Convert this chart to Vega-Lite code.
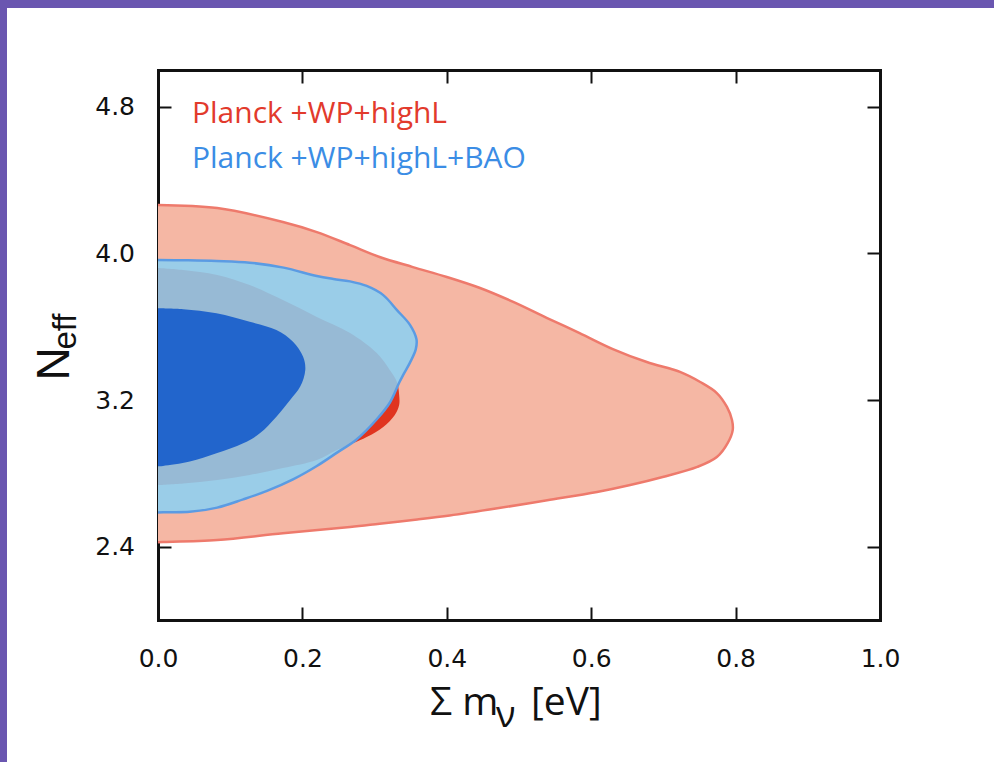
{
  "$schema": "https://vega.github.io/schema/vega-lite/v6.json",
  "padding": 0,
  "background": "#ffffff",
  "spacing": 0,
  "resolve": {"legend": {"stroke": "independent"}},
  "config": {
    "view": {"stroke": null},
    "concat": {"spacing": 0},
    "axis": {"zindex": 1, "grid": false, "domainColor": "#111111", "domainWidth": 3, "domainCap": "square", "tickColor": "#111111", "tickWidth": 2, "tickSize": -13, "labelColor": "#111111", "labelFont": "DejaVu Sans", "labelFontSize": 25, "titleColor": "#111111", "titleFont": "Open Sans", "titleFontWeight": "normal"}
  },
  "vconcat": [
    {"width": 994, "height": 8, "data": {"values": [{}]}, "mark": {"type": "rect", "color": "#6a56b0"}, "encoding": {}, "view": {"fill": "#6a56b0", "stroke": null}},
    {"spacing": 0, "resolve": {"legend": {"stroke": "independent"}}, "hconcat": [
      {"width": 7, "height": 754, "data": {"values": [{}]}, "mark": {"type": "rect", "color": "#6a56b0"}, "encoding": {}, "view": {"fill": "#6a56b0", "stroke": null}},
      {
        "width": 722, "height": 612,
        "data": {"values": [
          {"d": "Planck +WP+highL", "cl": 95, "m": 0, "n": 4.264},
          {"d": "Planck +WP+highL", "cl": 95, "m": 0.082, "n": 4.247},
          {"d": "Planck +WP+highL", "cl": 95, "m": 0.173, "n": 4.171},
          {"d": "Planck +WP+highL", "cl": 95, "m": 0.220, "n": 4.116},
          {"d": "Planck +WP+highL", "cl": 95, "m": 0.266, "n": 4.045},
          {"d": "Planck +WP+highL", "cl": 95, "m": 0.307, "n": 3.980},
          {"d": "Planck +WP+highL", "cl": 95, "m": 0.353, "n": 3.925},
          {"d": "Planck +WP+highL", "cl": 95, "m": 0.400, "n": 3.871},
          {"d": "Planck +WP+highL", "cl": 95, "m": 0.446, "n": 3.811},
          {"d": "Planck +WP+highL", "cl": 95, "m": 0.492, "n": 3.735},
          {"d": "Planck +WP+highL", "cl": 95, "m": 0.539, "n": 3.647},
          {"d": "Planck +WP+highL", "cl": 95, "m": 0.584, "n": 3.565},
          {"d": "Planck +WP+highL", "cl": 95, "m": 0.630, "n": 3.478},
          {"d": "Planck +WP+highL", "cl": 95, "m": 0.677, "n": 3.407},
          {"d": "Planck +WP+highL", "cl": 95, "m": 0.723, "n": 3.353},
          {"d": "Planck +WP+highL", "cl": 95, "m": 0.751, "n": 3.298},
          {"d": "Planck +WP+highL", "cl": 95, "m": 0.774, "n": 3.238},
          {"d": "Planck +WP+highL", "cl": 95, "m": 0.788, "n": 3.162},
          {"d": "Planck +WP+highL", "cl": 95, "m": 0.795, "n": 3.091},
          {"d": "Planck +WP+highL", "cl": 95, "m": 0.796, "n": 3.036},
          {"d": "Planck +WP+highL", "cl": 95, "m": 0.789, "n": 2.965},
          {"d": "Planck +WP+highL", "cl": 95, "m": 0.774, "n": 2.889},
          {"d": "Planck +WP+highL", "cl": 95, "m": 0.747, "n": 2.835},
          {"d": "Planck +WP+highL", "cl": 95, "m": 0.699, "n": 2.780},
          {"d": "Planck +WP+highL", "cl": 95, "m": 0.654, "n": 2.736},
          {"d": "Planck +WP+highL", "cl": 95, "m": 0.608, "n": 2.698},
          {"d": "Planck +WP+highL", "cl": 95, "m": 0.539, "n": 2.653},
          {"d": "Planck +WP+highL", "cl": 95, "m": 0.470, "n": 2.609},
          {"d": "Planck +WP+highL", "cl": 95, "m": 0.404, "n": 2.570},
          {"d": "Planck +WP+highL", "cl": 95, "m": 0.359, "n": 2.548},
          {"d": "Planck +WP+highL", "cl": 95, "m": 0.307, "n": 2.525},
          {"d": "Planck +WP+highL", "cl": 95, "m": 0.266, "n": 2.507},
          {"d": "Planck +WP+highL", "cl": 95, "m": 0.173, "n": 2.473},
          {"d": "Planck +WP+highL", "cl": 95, "m": 0.082, "n": 2.436},
          {"d": "Planck +WP+highL", "cl": 95, "m": 0.007, "n": 2.425},
          {"d": "Planck +WP+highL", "cl": 95, "m": 0, "n": 2.424},
          {"d": "Planck +WP+highL", "cl": 68, "m": 0, "n": 3.920},
          {"d": "Planck +WP+highL", "cl": 68, "m": 0.035, "n": 3.909},
          {"d": "Planck +WP+highL", "cl": 68, "m": 0.082, "n": 3.882},
          {"d": "Planck +WP+highL", "cl": 68, "m": 0.127, "n": 3.827},
          {"d": "Planck +WP+highL", "cl": 68, "m": 0.173, "n": 3.745},
          {"d": "Planck +WP+highL", "cl": 68, "m": 0.220, "n": 3.653},
          {"d": "Planck +WP+highL", "cl": 68, "m": 0.266, "n": 3.565},
          {"d": "Planck +WP+highL", "cl": 68, "m": 0.303, "n": 3.456},
          {"d": "Planck +WP+highL", "cl": 68, "m": 0.321, "n": 3.364},
          {"d": "Planck +WP+highL", "cl": 68, "m": 0.331, "n": 3.298},
          {"d": "Planck +WP+highL", "cl": 68, "m": 0.334, "n": 3.227},
          {"d": "Planck +WP+highL", "cl": 68, "m": 0.334, "n": 3.173},
          {"d": "Planck +WP+highL", "cl": 68, "m": 0.328, "n": 3.118},
          {"d": "Planck +WP+highL", "cl": 68, "m": 0.312, "n": 3.053},
          {"d": "Planck +WP+highL", "cl": 68, "m": 0.289, "n": 2.998},
          {"d": "Planck +WP+highL", "cl": 68, "m": 0.248, "n": 2.927},
          {"d": "Planck +WP+highL", "cl": 68, "m": 0.220, "n": 2.873},
          {"d": "Planck +WP+highL", "cl": 68, "m": 0.173, "n": 2.829},
          {"d": "Planck +WP+highL", "cl": 68, "m": 0.127, "n": 2.791},
          {"d": "Planck +WP+highL", "cl": 68, "m": 0.082, "n": 2.764},
          {"d": "Planck +WP+highL", "cl": 68, "m": 0.035, "n": 2.745},
          {"d": "Planck +WP+highL", "cl": 68, "m": 0, "n": 2.736},
          {"d": "Planck +WP+highL+BAO", "cl": 95, "m": 0, "n": 3.964},
          {"d": "Planck +WP+highL+BAO", "cl": 95, "m": 0.040, "n": 3.962},
          {"d": "Planck +WP+highL+BAO", "cl": 95, "m": 0.081, "n": 3.958},
          {"d": "Planck +WP+highL+BAO", "cl": 95, "m": 0.127, "n": 3.949},
          {"d": "Planck +WP+highL+BAO", "cl": 95, "m": 0.174, "n": 3.922},
          {"d": "Planck +WP+highL+BAO", "cl": 95, "m": 0.220, "n": 3.876},
          {"d": "Planck +WP+highL+BAO", "cl": 95, "m": 0.243, "n": 3.860},
          {"d": "Planck +WP+highL+BAO", "cl": 95, "m": 0.266, "n": 3.847},
          {"d": "Planck +WP+highL+BAO", "cl": 95, "m": 0.289, "n": 3.822},
          {"d": "Planck +WP+highL+BAO", "cl": 95, "m": 0.312, "n": 3.772},
          {"d": "Planck +WP+highL+BAO", "cl": 95, "m": 0.331, "n": 3.690},
          {"d": "Planck +WP+highL+BAO", "cl": 95, "m": 0.349, "n": 3.610},
          {"d": "Planck +WP+highL+BAO", "cl": 95, "m": 0.358, "n": 3.531},
          {"d": "Planck +WP+highL+BAO", "cl": 95, "m": 0.357, "n": 3.476},
          {"d": "Planck +WP+highL+BAO", "cl": 95, "m": 0.349, "n": 3.404},
          {"d": "Planck +WP+highL+BAO", "cl": 95, "m": 0.340, "n": 3.340},
          {"d": "Planck +WP+highL+BAO", "cl": 95, "m": 0.334, "n": 3.294},
          {"d": "Planck +WP+highL+BAO", "cl": 95, "m": 0.321, "n": 3.185},
          {"d": "Planck +WP+highL+BAO", "cl": 95, "m": 0.303, "n": 3.095},
          {"d": "Planck +WP+highL+BAO", "cl": 95, "m": 0.275, "n": 2.985},
          {"d": "Planck +WP+highL+BAO", "cl": 95, "m": 0.248, "n": 2.913},
          {"d": "Planck +WP+highL+BAO", "cl": 95, "m": 0.220, "n": 2.840},
          {"d": "Planck +WP+highL+BAO", "cl": 95, "m": 0.187, "n": 2.767},
          {"d": "Planck +WP+highL+BAO", "cl": 95, "m": 0.151, "n": 2.704},
          {"d": "Planck +WP+highL+BAO", "cl": 95, "m": 0.118, "n": 2.658},
          {"d": "Planck +WP+highL+BAO", "cl": 95, "m": 0.082, "n": 2.613},
          {"d": "Planck +WP+highL+BAO", "cl": 95, "m": 0.044, "n": 2.590},
          {"d": "Planck +WP+highL+BAO", "cl": 95, "m": 0.007, "n": 2.588},
          {"d": "Planck +WP+highL+BAO", "cl": 95, "m": 0, "n": 2.587},
          {"d": "Planck +WP+highL+BAO", "cl": 68, "m": 0, "n": 3.700},
          {"d": "Planck +WP+highL+BAO", "cl": 68, "m": 0.035, "n": 3.695},
          {"d": "Planck +WP+highL+BAO", "cl": 68, "m": 0.081, "n": 3.673},
          {"d": "Planck +WP+highL+BAO", "cl": 68, "m": 0.127, "n": 3.627},
          {"d": "Planck +WP+highL+BAO", "cl": 68, "m": 0.164, "n": 3.582},
          {"d": "Planck +WP+highL+BAO", "cl": 68, "m": 0.187, "n": 3.518},
          {"d": "Planck +WP+highL+BAO", "cl": 68, "m": 0.201, "n": 3.436},
          {"d": "Planck +WP+highL+BAO", "cl": 68, "m": 0.204, "n": 3.364},
          {"d": "Planck +WP+highL+BAO", "cl": 68, "m": 0.197, "n": 3.273},
          {"d": "Planck +WP+highL+BAO", "cl": 68, "m": 0.183, "n": 3.200},
          {"d": "Planck +WP+highL+BAO", "cl": 68, "m": 0.164, "n": 3.109},
          {"d": "Planck +WP+highL+BAO", "cl": 68, "m": 0.141, "n": 3.018},
          {"d": "Planck +WP+highL+BAO", "cl": 68, "m": 0.118, "n": 2.964},
          {"d": "Planck +WP+highL+BAO", "cl": 68, "m": 0.081, "n": 2.909},
          {"d": "Planck +WP+highL+BAO", "cl": 68, "m": 0.044, "n": 2.864},
          {"d": "Planck +WP+highL+BAO", "cl": 68, "m": 0.007, "n": 2.840},
          {"d": "Planck +WP+highL+BAO", "cl": 68, "m": 0, "n": 2.838}
        ]},
        "resolve": {"axis": {"x": "independent", "y": "independent"}},
        "layer": [
          {
            "transform": [{"filter": "datum.d === 'Planck +WP+highL' && datum.cl === 95"}],
            "mark": {"type": "area", "orient": "horizontal", "interpolate": "catmull-rom", "color": "#f5b7a4"},
            "encoding": {
              "x": {"field": "m", "type": "quantitative", "stack": null, "scale": {"domain": [0, 1], "nice": false, "zero": false},
                    "axis": {"orient": "bottom", "values": [0, 0.2, 0.4, 0.6, 0.8, 1.0], "format": ".1f", "labelFlush": false, "labelOverlap": false, "labelPadding": 39, "title": null}},
              "x2": {"datum": 0},
              "y": {"field": "n", "type": "quantitative", "scale": {"domain": [2.0, 5.0], "range": [612, 62], "nice": false, "zero": false},
                    "axis": {"orient": "left", "values": [2.4, 3.2, 4.0, 4.8], "format": ".1f", "labelFlush": false, "labelOverlap": false, "labelPadding": 36.5, "title": null, "minExtent": 151, "maxExtent": 151}}
            }
          },
          {
            "transform": [{"filter": "datum.d === 'Planck +WP+highL' && datum.cl === 68"}],
            "mark": {"type": "area", "orient": "horizontal", "interpolate": "catmull-rom", "color": "#e0341f"},
            "encoding": {
              "x": {"field": "m", "type": "quantitative", "stack": null, "scale": {"domain": [0, 1], "nice": false, "zero": false}, "axis": null},
              "x2": {"datum": 0},
              "y": {"field": "n", "type": "quantitative", "scale": {"domain": [2.0, 5.0], "range": [612, 62], "nice": false, "zero": false}, "axis": null}
            }
          },
          {
            "transform": [{"filter": "datum.d === 'Planck +WP+highL+BAO' && datum.cl === 95"}],
            "mark": {"type": "area", "orient": "horizontal", "interpolate": "catmull-rom", "color": "#8bd0f3", "opacity": 0.86},
            "encoding": {
              "x": {"field": "m", "type": "quantitative", "stack": null, "scale": {"domain": [0, 1], "nice": false, "zero": false}, "axis": null},
              "x2": {"datum": 0},
              "y": {"field": "n", "type": "quantitative", "scale": {"domain": [2.0, 5.0], "range": [612, 62], "nice": false, "zero": false}, "axis": null}
            }
          },
          {
            "transform": [{"filter": "datum.d === 'Planck +WP+highL+BAO' && datum.cl === 68"}],
            "mark": {"type": "area", "orient": "horizontal", "interpolate": "catmull-rom", "color": "#2265cc"},
            "encoding": {
              "x": {"field": "m", "type": "quantitative", "stack": null, "scale": {"domain": [0, 1], "nice": false, "zero": false}, "axis": null},
              "x2": {"datum": 0},
              "y": {"field": "n", "type": "quantitative", "scale": {"domain": [2.0, 5.0], "range": [612, 62], "nice": false, "zero": false}, "axis": null}
            }
          },
          {
            "transform": [{"filter": "datum.cl === 95"}],
            "mark": {"type": "line", "interpolate": "catmull-rom", "strokeWidth": 2.5},
            "encoding": {
              "x": {"field": "m", "type": "quantitative", "scale": {"domain": [0, 1], "nice": false, "zero": false},
                    "axis": {"orient": "top", "offset": -62, "values": [0.2, 0.4, 0.6, 0.8], "labels": false, "title": null, "minExtent": 0, "maxExtent": 0}},
              "y": {"field": "n", "type": "quantitative", "scale": {"domain": [2.0, 5.0], "range": [612, 62], "nice": false, "zero": false},
                    "axis": {"orient": "right", "values": [2.4, 3.2, 4.0, 4.8], "labels": false, "title": null, "minExtent": 2, "maxExtent": 2}},
              "order": {"field": "n", "type": "quantitative"},
              "stroke": {"field": "d", "type": "nominal",
                         "scale": {"domain": ["Planck +WP+highL", "Planck +WP+highL+BAO"], "range": ["#ee7a6c", "#5b9be3"]},
                         "legend": {"orient": "top-left", "title": null, "offset": 91, "padding": 0, "symbolSize": 0, "symbolStrokeWidth": 0, "symbolOpacity": 0, "labelOffset": -87, "labelFont": "Open Sans", "labelFontSize": 30, "labelLimit": 0, "rowPadding": 15,
                                    "encode": {"labels": {"update": {"fill": {"signal": "datum.value === 'Planck +WP+highL' ? '#e23a2c' : '#3b8de5'"}}}}}}
            }
          },
          {
            "data": {"values": [{"t": "N"}]},
            "mark": {"type": "text", "angle": 270, "align": "left", "baseline": "alphabetic", "font": "Liberation Sans", "fontSize": 46, "color": "#111111"},
            "encoding": {
              "x": {"datum": -0.1233, "type": "quantitative", "scale": {"domain": [0, 1], "nice": false, "zero": false}, "axis": null},
              "y": {"datum": 3.306, "type": "quantitative", "scale": {"domain": [2.0, 5.0], "range": [612, 62], "nice": false, "zero": false}, "axis": null},
              "text": {"field": "t"}
            }
          },
          {
            "data": {"values": [{"t": "eff"}]},
            "mark": {"type": "text", "angle": 270, "align": "left", "baseline": "alphabetic", "font": "Liberation Sans", "fontSize": 33, "color": "#111111"},
            "encoding": {
              "x": {"datum": -0.1136, "type": "quantitative", "scale": {"domain": [0, 1], "nice": false, "zero": false}, "axis": null},
              "y": {"datum": 3.475, "type": "quantitative", "scale": {"domain": [2.0, 5.0], "range": [612, 62], "nice": false, "zero": false}, "axis": null},
              "text": {"field": "t"}
            }
          },
          {
            "data": {"values": [{"t": "Σ m"}]},
            "mark": {"type": "text", "align": "left", "baseline": "alphabetic", "font": "Open Sans", "fontSize": 39, "color": "#111111"},
            "encoding": {
              "x": {"datum": 0.3767, "type": "quantitative", "scale": {"domain": [0, 1], "nice": false, "zero": false}, "axis": null},
              "y": {"datum": 1.482, "type": "quantitative", "scale": {"domain": [2.0, 5.0], "range": [612, 62], "nice": false, "zero": false}, "axis": null},
              "text": {"field": "t"}
            }
          },
          {
            "data": {"values": [{"t": "ν"}]},
            "mark": {"type": "text", "align": "left", "baseline": "alphabetic", "font": "Open Sans", "fontSize": 36, "color": "#111111"},
            "encoding": {
              "x": {"datum": 0.468, "type": "quantitative", "scale": {"domain": [0, 1], "nice": false, "zero": false}, "axis": null},
              "y": {"datum": 1.4155, "type": "quantitative", "scale": {"domain": [2.0, 5.0], "range": [612, 62], "nice": false, "zero": false}, "axis": null},
              "text": {"field": "t"}
            }
          },
          {
            "data": {"values": [{"t": "[eV]"}]},
            "mark": {"type": "text", "align": "left", "baseline": "alphabetic", "font": "Open Sans", "fontSize": 39, "color": "#111111"},
            "encoding": {
              "x": {"datum": 0.5166, "type": "quantitative", "scale": {"domain": [0, 1], "nice": false, "zero": false}, "axis": null},
              "y": {"datum": 1.482, "type": "quantitative", "scale": {"domain": [2.0, 5.0], "range": [612, 62], "nice": false, "zero": false}, "axis": null},
              "text": {"field": "t"}
            }
          }
        ]
      }
    ]}
  ]
}
